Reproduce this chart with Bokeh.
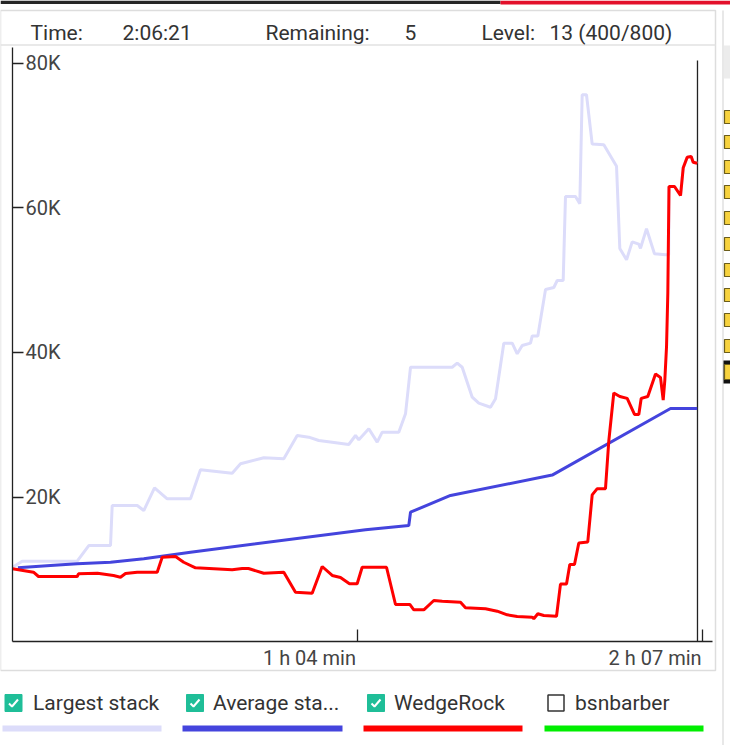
from bokeh.plotting import figure
from bokeh.models import Range1d, LinearAxis, FixedTicker
from bokeh.core.properties import value
from bokeh.embed import file_html
from bokeh.resources import INLINE

# ---------------- data ----------------
LARGEST_T = [0, 1.80, 12.02, 14.17, 18.21, 18.52, 23.17, 24.39, 26.38, 28.74,
             33.07, 34.92, 40.81, 42.36, 46.68, 50.40, 52.89, 55.04, 56.90, 59.39,
             62.47, 63.72, 64.33, 66.19, 67.75, 68.68, 71.76, 73.01, 73.94, 81.68,
             82.61, 83.54, 85.40, 86.62, 88.80, 89.73, 91.27, 92.83, 93.76, 94.69,
             96.23, 96.55, 97.59, 99.02, 100.56, 101.19, 102.30, 102.73, 104.59, 105.39,
             105.83, 106.63, 107.69, 109.85, 112.21, 112.82, 114.07, 115.12, 116.35, 116.66,
             117.78, 119.26, 121.31, 121.90, 121.96, 122.98, 124.10, 124.60, 125.34, 126.08,
             126.45, 127.20]
LARGEST_V = [10300, 11140, 11140, 13310, 13310, 18840, 18840, 18150, 21290, 19770,
             19770, 23780, 23310, 24610, 25440, 25300, 28520, 28290, 27830, 27600,
             27280, 28520, 27930, 29450, 27600, 28980, 28980, 31520, 37960, 37960,
             38520, 37960, 33820, 32990, 32430, 33600, 41280, 41280, 39820, 40960,
             41300, 42290, 42290, 48710, 48980, 49950, 49950, 61570, 61570, 60570,
             75630, 75630, 68810, 68710, 65750, 54390, 52810, 55290, 54980, 54390,
             57110, 53660, 53500, 53500, 62950, 62950, 61700, 65530, 67000, 67100,
             66310, 66170]

AVERAGE_T = [1.0, 7.06, 12.02, 18.21, 24.39, 33.07, 65.58, 73.62, 73.94, 81.37,
             100.26, 122.24, 127.20]
AVERAGE_V = [10230, 10550, 10780, 11000, 11480, 12390, 15480, 16080, 17920, 20230,
             23050, 32250, 32250]

WEDGE_T = [0, 3.90, 4.83, 12.02, 12.26, 15.79, 18.76, 20.06, 20.99, 23.17,
           26.88, 27.81, 30.28, 31.8, 34.0, 40.81, 42.67, 43.84, 46.68, 50.40,
           52.57, 55.67, 57.53, 59.39, 60.93, 62.60, 64.03, 64.96, 69.48, 71.15,
           73.81, 74.55, 76.41, 78.27, 79.83, 83.23, 84.15, 87.87, 90.04, 91.90,
           93.76, 96.54, 96.84, 97.59, 98.70, 101.06, 101.80, 102.92, 103.53, 104.40,
           105.20, 106.87, 107.69, 108.62, 110.16, 110.77, 111.70, 112.82, 114.19, 115.55,
           116.35, 116.79, 118.02, 119.45, 120.38, 120.88, 121.18, 121.50, 121.74, 121.96,
           122.98, 124.10, 124.60, 125.34, 126.08, 126.45, 127.20]
WEDGE_V = [10090, 9620, 9030, 9030, 9400, 9480, 9170, 8930, 9440, 9620,
           9620, 11700, 11790, 11000, 10230, 9950, 10130, 10130, 9480, 9620,
           6860, 6720, 10410, 9170, 8890, 8020, 8020, 10310, 10310, 5160,
           5160, 4420, 4420, 5710, 5610, 5470, 4700, 4560, 4230, 3730,
           3500, 3400, 3180, 3870, 3640, 3540, 7980, 7980, 10690, 10690,
           13660, 13810, 20320, 21170, 21170, 27730, 34400, 33910, 33650, 31440,
           31430, 33650, 33910, 37010, 36540, 33420, 36130, 40830, 48220, 62950,
           62950, 61700, 65530, 67000, 67100, 66310, 66170]

NOW_T = 127.25

Y_TICKS = [20000, 40000, 60000, 80000]
Y_LABELS = ["20K", "40K", "60K", "80K"]
X_TICKS = [64.0, 128.2]
X_LABELS = ["1 h 04 min", "2 h 07 min"]

SERIES_NAMES = ["Largest stack", "Average sta...", "WedgeRock", "bsnbarber"]
SERIES_COLORS = ["#dcdcfa", "#4444dd", "#ff0000", "#00ee00"]
SERIES_CHECKED = [True, True, True, False]

HEADER = [("Time:", 30), ("2:06:21", 122), ("Remaining:", 265), ("5", 404),
          ("Level:", 481), ("13 (400/800)", 549)]

# ---------------- geometry (screen px -> data) ----------------
W, H = 730, 745
X0_PX, PX_PER_MIN = 12.0, 5.383
Y0_PX, PX_PER_CHIP = 641.3, 7.233 / 1000.0


def X(px):
    return (px - X0_PX) / PX_PER_MIN


def Y(py):
    return (Y0_PX - py) / PX_PER_CHIP


FONT = value("Roboto")
TXT = "#333333"

p = figure(width=W, height=H, output_backend="svg", toolbar_location=None,
           x_range=Range1d(X(0), X(W)), y_range=Range1d(Y(H), Y(0)),
           x_axis_type=None, y_axis_type=None, min_border=0,
           outline_line_color=None, background_fill_color="white",
           border_fill_color="white")

# ---------------- decorations ----------------
# top bar
p.quad(left=[X(0)], right=[X(500)], top=[Y(0)], bottom=[Y(3.5)],
       fill_color="#262626", line_color=None)
p.quad(left=[X(500)], right=[X(730)], top=[Y(0)], bottom=[Y(4)],
       fill_color="#e3102b", line_color=None)
# chart box
p.quad(left=[X(0)], right=[X(715)], top=[Y(10)], bottom=[Y(670)],
       fill_color=None, line_color="#dddddd", line_width=1.5)
p.line(x=[X(0), X(715)], y=[Y(44.5), Y(44.5)], line_color="#e2e2e2", line_width=1.5)
# right panel
p.line(x=[X(722.5), X(722.5)], y=[Y(10), Y(745)], line_color="#e0e0e0", line_width=1.5)
p.quad(left=[X(723.5)], right=[X(731)], top=[Y(45)], bottom=[Y(78)],
       fill_color="#ececec", line_color=None)
sq_tops = [110, 135, 160, 185, 211, 237, 263, 288, 313, 339]
p.quad(left=[X(724)] * len(sq_tops), right=[X(732)] * len(sq_tops),
       top=[Y(t) for t in sq_tops], bottom=[Y(t + 13) for t in sq_tops],
       fill_color="#f7d23e", line_color="#6b5d1c", line_width=1.2)
p.quad(left=[X(723)], right=[X(732)], top=[Y(360)], bottom=[Y(383)],
       fill_color="#111111", line_color=None)
p.quad(left=[X(724)], right=[X(732)], top=[Y(364)], bottom=[Y(379)],
       fill_color="#f7d23e", line_color="#6b5d1c", line_width=1.2)

# header
for s, px in HEADER:
    p.text(x=[X(px)], y=[Y(32)], text=[s], text_font=FONT, text_font_size="21px",
           text_color=TXT, text_align="left", text_baseline="middle")

# ---------------- axes ----------------
yaxis = LinearAxis(fixed_location=0, ticker=FixedTicker(ticks=Y_TICKS),
                   bounds=(0, Y(46.5)), major_tick_in=11, major_tick_out=0,
                   minor_tick_in=0, minor_tick_out=0, major_label_standoff=0,
                   major_label_text_font_size="0px",
                   major_label_overrides={t: "" for t in Y_TICKS},
                   axis_line_color="#222222", major_tick_line_color="#222222",
                   axis_line_width=1.3, major_tick_line_width=1.3)
p.add_layout(yaxis, "left")
xaxis = LinearAxis(fixed_location=0, ticker=FixedTicker(ticks=X_TICKS),
                   bounds=(0, X(712)), major_tick_in=12, major_tick_out=0,
                   minor_tick_in=0, minor_tick_out=0, major_label_standoff=0,
                   major_label_text_font_size="0px",
                   major_label_overrides={t: "" for t in X_TICKS},
                   axis_line_color="#222222", major_tick_line_color="#222222",
                   axis_line_width=1.3, major_tick_line_width=1.3)
p.add_layout(xaxis, "below")

p.text(x=[0] * len(Y_TICKS), y=Y_TICKS, text=Y_LABELS, x_offset=13,
       text_font=FONT, text_font_size="20px", text_color="#444444",
       text_align="left", text_baseline="middle")
p.text(x=X_TICKS, y=[0] * len(X_TICKS), text=X_LABELS, x_offset=-1, y_offset=16,
       text_font=FONT, text_font_size="20px", text_color="#444444",
       text_align="right", text_baseline="middle")

# now line
p.segment(x0=[NOW_T], x1=[NOW_T], y0=[0], y1=[Y(60)], line_color="#222222",
          line_width=1.3)

# ---------------- series ----------------
p.line(LARGEST_T, LARGEST_V, line_color=SERIES_COLORS[0], line_width=3)
p.line(AVERAGE_T, AVERAGE_V, line_color=SERIES_COLORS[1], line_width=3)
p.line(WEDGE_T, WEDGE_V, line_color=SERIES_COLORS[2], line_width=3)

# ---------------- legend ----------------
box_cx = [13, 194.5, 375.5, 555.5]
label_x = [32.5, 212.5, 393.5, 574.5]
bar_x = [(2, 161), (182, 342), (363, 522), (544, 703)]
for i, name in enumerate(SERIES_NAMES):
    cx, cy = box_cx[i], 702.5
    if SERIES_CHECKED[i]:
        p.rect(x=[X(cx)], y=[Y(cy)], width=17, height=17, width_units="screen",
               height_units="screen", fill_color="#1fbe98", line_color="#1fbe98")
        p.line(x=[X(cx - 4.5), X(cx - 1.5), X(cx + 4.5)],
               y=[Y(cy + 0.5), Y(cy + 3.5), Y(cy - 3.5)],
               line_color="white", line_width=2)
    else:
        p.rect(x=[X(cx)], y=[Y(cy)], width=16, height=16, width_units="screen",
               height_units="screen", fill_color="white", line_color="#333333",
               line_width=1.5)
    p.text(x=[X(label_x[i])], y=[Y(702)], text=[name], text_font=FONT,
           text_font_size="21px", text_color=TXT, text_align="left",
           text_baseline="middle")
    a, b = bar_x[i]
    p.quad(left=[X(a)], right=[X(b)], top=[Y(725)], bottom=[Y(731)],
           fill_color=SERIES_COLORS[i], line_color=None)

open("out.html", "w").write(file_html(p, INLINE))
